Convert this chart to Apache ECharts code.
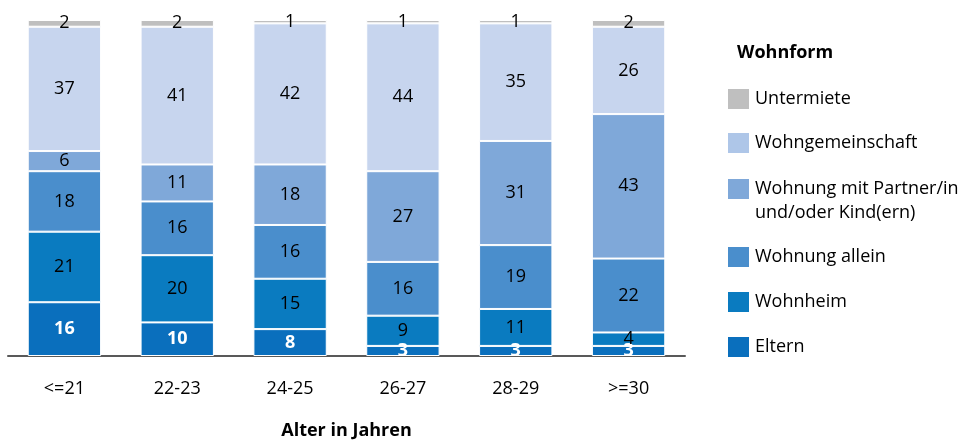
<!DOCTYPE html>
<html>
<head>
<meta charset="utf-8">
<script src="https://cdn.jsdelivr.net/npm/echarts@6/dist/echarts.min.js"></script>
<style>html,body{margin:0;padding:0;background:#fff}#c{width:974px;height:443px}</style>
</head>
<body>
<div id="c"></div>
<script>
const categories = ['<=21', '22-23', '24-25', '26-27', '28-29', '>=30'];
const eltern = [16, 10, 8, 3, 3, 3];
const wohnheim = [21, 20, 15, 9, 11, 4];
const wohnungAllein = [18, 16, 16, 16, 19, 22];
const wohnungPartner = [6, 11, 18, 27, 31, 43];
const wohngemeinschaft = [37, 41, 42, 44, 35, 26];
const untermiete = [2, 2, 1, 1, 1, 2];

const names = ['Untermiete', 'Wohngemeinschaft', 'Wohnung mit Partner/in und/oder Kind(ern)', 'Wohnung allein', 'Wohnheim', 'Eltern'];
const legendLabels = ['Untermiete', 'Wohngemeinschaft', 'Wohnung mit Partner/in', 'Wohnung allein', 'Wohnheim', 'Eltern'];
const legendSecondLine = 'und/oder Kind(ern)';
const colors = ['#BFBFBF', '#C7D5EE', '#7FA8D9', '#4A8ECC', '#0A7BC0', '#0A6FBD'];
const legendColors = ['#BFBFBF', '#AEC6E8', '#7FA8D9', '#4A8ECC', '#0A7BC0', '#0A6FBD'];
const legendTops = [87, 131, 177, 245, 290, 335];

const FONT = 'Open Sans';
const FS = 18;
const chart = echarts.init(document.getElementById('c'));

function mkSeries(name, data, color, white) {
  return {
    name: name, type: 'bar', stack: 'total', data: data, barWidth: '65%',
    itemStyle: { color: color, borderColor: '#ffffff', borderWidth: 1 },
    label: {
      show: true, position: 'inside', fontFamily: FONT, fontSize: FS,
      color: white ? '#ffffff' : '#000000', fontWeight: white ? 'bold' : 'normal'
    },
    emphasis: { disabled: true }
  };
}

const series = [
  mkSeries(names[5], eltern, colors[5], true),
  mkSeries(names[4], wohnheim, colors[4], false),
  mkSeries(names[3], wohnungAllein, colors[3], false),
  mkSeries(names[2], wohnungPartner, colors[2], false),
  mkSeries(names[1], wohngemeinschaft, colors[1], false),
  mkSeries(names[0], untermiete, colors[0], false)
];

const legends = names.map((n, i) => ({
  data: [{ name: n, itemStyle: { color: legendColors[i] } }],
  left: 726, top: legendTops[i], orient: 'vertical',
  itemWidth: 23, itemHeight: 22, itemGap: 0, selectedMode: false,
  icon: 'rect', padding: 0,
  formatter: () => legendLabels[i],
  textStyle: { fontFamily: FONT, fontSize: FS, color: '#000' }
}));

chart.setOption({
  animation: false,
  title: {
    text: 'Wohnform', left: 732, top: 39,
    textStyle: { fontFamily: FONT, fontSize: FS, fontWeight: 'bold', color: '#000' }
  },
  legend: legends,
  graphic: [{
    type: 'text', left: 755, top: 204,
    style: { text: legendSecondLine, fontFamily: FONT, fontSize: FS, fill: '#000' }
  }],
  grid: { left: 8, width: 677, top: 20, bottom: 87, outerBoundsMode: 'none', containLabel: false },
  xAxis: {
    type: 'category', data: categories,
    axisLine: { lineStyle: { color: '#595959', width: 2 } },
    axisTick: { show: false },
    axisLabel: { fontFamily: FONT, fontSize: FS, color: '#000', margin: 24 },
    name: 'Alter in Jahren', nameLocation: 'middle', nameGap: 66,
    nameTextStyle: { fontFamily: FONT, fontSize: FS, fontWeight: 'bold', color: '#000' }
  },
  yAxis: { type: 'value', min: 0, max: 100, show: false },
  series: series
});
</script>
</body>
</html>
